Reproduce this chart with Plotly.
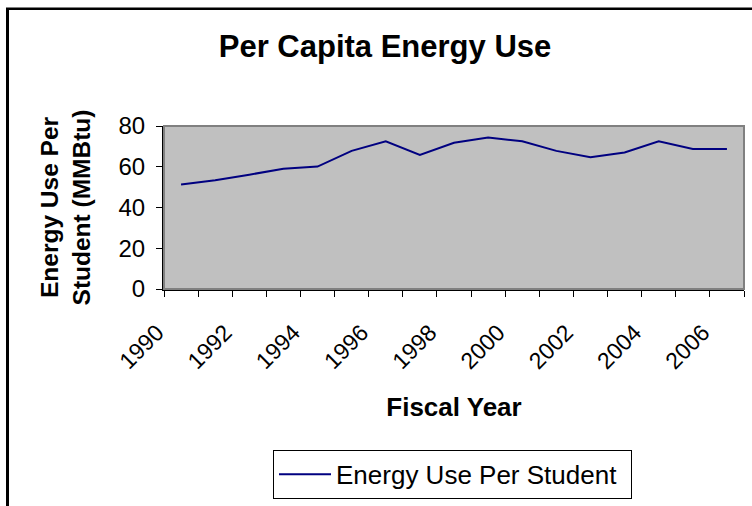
import plotly.graph_objects as go

years = list(range(1990, 2007))
energy_per_student = [51.3, 53.4, 56.1, 59.0, 60.1, 67.8, 72.5, 65.8, 71.8, 74.4,
                      72.5, 67.8, 64.7, 67.0, 72.5, 68.7, 68.7]
year_labels = [str(y) for y in range(1990, 2007, 2)]

W, H = 752, 506
L, R, T, B = 164, 8, 126, 213
pw, ph = W - L - R, H - T - B


def px_x(x):
    return (x - L) / pw


def px_y(y):
    return ((H - B) - y) / ph


fig = go.Figure()
fig.add_scatter(
    x=years,
    y=energy_per_student,
    mode="lines",
    name="Energy Use Per Student",
    line=dict(color="#000080", width=2),
)

font = "Arial, Liberation Sans, sans-serif"
fig.update_layout(
    width=W,
    height=H,
    margin=dict(l=L, r=R, t=T, b=B),
    paper_bgcolor="white",
    plot_bgcolor="#c0c0c0",
    font=dict(family=font, color="black", size=22),
    title=dict(
        text="<b>Per Capita Energy Use</b>",
        x=385 / W,
        xanchor="center",
        y=1 - 46 / H,
        yanchor="middle",
        font=dict(size=31),
    ),
    showlegend=True,
    legend=dict(
        orientation="h",
        x=px_x(273),
        y=px_y(508),
        xanchor="left",
        yanchor="bottom",
        bordercolor="black",
        borderwidth=1,
        bgcolor="white",
        font=dict(size=26),
        itemwidth=52,
        entrywidth=290,
    ),
    shapes=[
        dict(type="rect", xref="paper", yref="paper", x0=0, x1=1, y0=0, y1=1,
             line=dict(color="#808080", width=2), layer="above"),
        dict(type="line", xref="paper", yref="paper",
             x0=px_x(7.5), x1=px_x(7.5), y0=px_y(5), y1=px_y(520),
             line=dict(color="black", width=3)),
        dict(type="line", xref="paper", yref="paper",
             x0=px_x(6), x1=px_x(770), y0=px_y(6), y1=px_y(6),
             line=dict(color="black", width=2.5)),
    ],
)

fig.update_xaxes(
    range=[1989.5, 2006.5],
    tickmode="array",
    tickvals=list(range(1990, 2007, 2)),
    ticktext=year_labels,
    tickangle=-45,
    ticks="",
    ticklabelstandoff=19,
    ticklabelshift=-24,
    showgrid=False,
    zeroline=False,
    showline=True,
    linecolor="black",
    linewidth=2,
    automargin=False,
    minor=dict(tick0=1989.5, dtick=1, ticks="outside", ticklen=6, tickcolor="black", tickwidth=1, showgrid=False),
    title=dict(text="<b>Fiscal Year</b>", font=dict(size=26), standoff=25),
    tickfont=dict(size=23),
)
fig.update_yaxes(
    range=[0, 80],
    dtick=20,
    ticks="outside",
    ticklen=6,
    tickcolor="black",
    showgrid=False,
    zeroline=False,
    showline=True,
    linecolor="black",
    linewidth=2,
    automargin=False,
    tickfont=dict(size=24),
    ticklabelstandoff=6,
    title=dict(text="<b>Energy Use Per<br>Student (MMBtu)</b>", font=dict(size=24.5), standoff=21),
)

fig.write_html(
    "out.html",
    config={"displayModeBar": False},
    post_script="document.body.style.margin='0px'; document.body.style.overflow='hidden';",
)
